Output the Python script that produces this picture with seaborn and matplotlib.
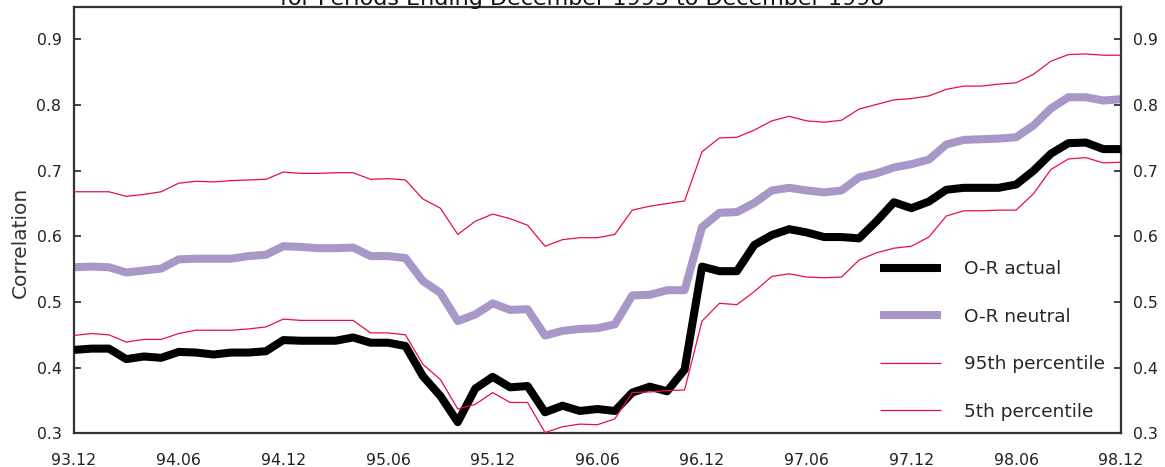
import numpy as np
import pandas as pd
import matplotlib
matplotlib.use("Agg")
import matplotlib.pyplot as plt
import seaborn as sns

# monthly correlation values, Dec 1993 .. Dec 1998 (61 months)
tick_labels = ["93.12", "94.06", "94.12", "95.06", "95.12", "96.06",
               "96.12", "97.06", "97.12", "98.06", "98.12"]

or_actual = [0.427, 0.429, 0.429, 0.413, 0.417, 0.415, 0.424, 0.423, 0.420, 0.423,
             0.423, 0.425, 0.442, 0.441, 0.441, 0.441, 0.446, 0.438, 0.438, 0.433,
             0.387, 0.357, 0.317, 0.368, 0.386, 0.370, 0.372, 0.332, 0.342, 0.334,
             0.337, 0.334, 0.362, 0.371, 0.364, 0.397, 0.554, 0.547, 0.547, 0.587,
             0.602, 0.611, 0.606, 0.599, 0.599, 0.597, 0.623, 0.652, 0.643, 0.653,
             0.671, 0.674, 0.674, 0.674, 0.679, 0.700, 0.726, 0.742, 0.743, 0.733,
             0.733]

or_neutral = [0.553, 0.554, 0.553, 0.545, 0.548, 0.551, 0.565, 0.566, 0.566, 0.566,
              0.570, 0.572, 0.585, 0.584, 0.582, 0.582, 0.583, 0.570, 0.570, 0.567,
              0.532, 0.514, 0.471, 0.481, 0.498, 0.488, 0.489, 0.449, 0.456, 0.459,
              0.460, 0.466, 0.510, 0.511, 0.518, 0.518, 0.614, 0.636, 0.637, 0.651,
              0.670, 0.674, 0.670, 0.667, 0.670, 0.690, 0.696, 0.705, 0.710, 0.717,
              0.740, 0.747, 0.748, 0.749, 0.751, 0.769, 0.795, 0.812, 0.812, 0.807,
              0.809]

pct95 = [0.668, 0.668, 0.668, 0.661, 0.664, 0.668, 0.681, 0.684, 0.683, 0.685,
         0.686, 0.687, 0.698, 0.696, 0.696, 0.697, 0.697, 0.687, 0.688, 0.686,
         0.657, 0.643, 0.603, 0.623, 0.634, 0.627, 0.617, 0.585, 0.595, 0.598,
         0.598, 0.603, 0.640, 0.646, 0.650, 0.654, 0.729, 0.750, 0.751, 0.762,
         0.776, 0.783, 0.776, 0.774, 0.777, 0.794, 0.801, 0.808, 0.810, 0.814,
         0.824, 0.829, 0.829, 0.832, 0.834, 0.847, 0.867, 0.877, 0.878, 0.876,
         0.876]

pct5 = [0.449, 0.452, 0.450, 0.439, 0.443, 0.443, 0.452, 0.457, 0.457, 0.457,
        0.459, 0.462, 0.474, 0.472, 0.472, 0.472, 0.472, 0.453, 0.453, 0.450,
        0.405, 0.382, 0.337, 0.344, 0.362, 0.347, 0.347, 0.301, 0.310, 0.314,
        0.313, 0.322, 0.362, 0.363, 0.365, 0.366, 0.471, 0.498, 0.496, 0.516,
        0.539, 0.543, 0.538, 0.537, 0.538, 0.564, 0.575, 0.582, 0.585, 0.599,
        0.631, 0.639, 0.639, 0.640, 0.640, 0.665, 0.702, 0.718, 0.720, 0.712,
        0.713]

months = np.arange(len(or_actual))
df = pd.DataFrame({"month": months, "actual": or_actual, "neutral": or_neutral,
                   "p95": pct95, "p5": pct5})

sns.set_style("white")
plt.rcParams["font.family"] = ["DejaVu Sans"]

fig = plt.figure(figsize=(11.65, 4.67), dpi=100)
ax = fig.add_axes([0.0635, 0.0722, 0.8985, 0.9135])

purple = "#a898c8"
red = "#e5123f"

sns.lineplot(data=df, x="month", y="actual", ax=ax, color="black", linewidth=5.8,
             label="O-R actual", zorder=3, solid_capstyle="butt")
sns.lineplot(data=df, x="month", y="neutral", ax=ax, color=purple, linewidth=5.8,
             label="O-R neutral", zorder=2, solid_capstyle="butt")
sns.lineplot(data=df, x="month", y="p95", ax=ax, color=red, linewidth=0.9,
             label="95th percentile", zorder=4, solid_capstyle="butt")
sns.lineplot(data=df, x="month", y="p5", ax=ax, color=red, linewidth=0.9,
             label="5th percentile", zorder=4, solid_capstyle="butt")

ax.set_xlim(0, 60)
ax.set_ylim(0.3, 0.95)
ax.set_xticks(np.arange(0, 61, 6))
ax.set_xticklabels(tick_labels)
ax.set_yticks([0.3, 0.4, 0.5, 0.6, 0.7, 0.8, 0.9])
ax.set_yticklabels(["0.3", "0.4", "0.5", "0.6", "0.7", "0.8", "0.9"])
ax.set_xlabel("")
ax.set_ylabel("Correlation", fontsize=14.5, color="#333333")
ax.yaxis.set_label_coords(-0.042, 0.448)

ax.tick_params(axis="both", direction="in", length=5, width=1.2, colors="#222222",
               labelsize=11.3)
ax.tick_params(axis="x", pad=14)
ax.tick_params(axis="y", left=True, right=True, labelleft=True, labelright=True, pad=9)
for sp in ax.spines.values():
    sp.set_visible(True)
    sp.set_color("#333333")
    sp.set_linewidth(1.6)

ax.legend(loc="center left", bbox_to_anchor=(0.763, 0.2175), frameon=False,
          fontsize=13.3, handlelength=3.3, handletextpad=1.25, labelspacing=1.6,
          borderaxespad=0)

# the reference shows only the lower half of this heading at the very top
fig.text(0.5, 1 - 5 / 467, "for Periods Ending December 1993 to December 1998",
         ha="center", va="baseline", fontsize=16, color="#111111")

fig.savefig("out.png", dpi=100)
